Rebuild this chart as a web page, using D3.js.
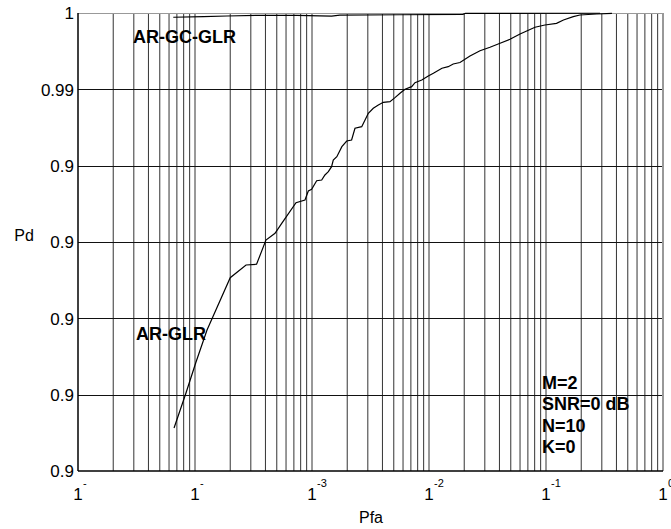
<!DOCTYPE html>
<html>
<head>
<meta charset="utf-8">
<script src="https://cdn.jsdelivr.net/npm/d3@7"></script>
<style>
  body { margin: 0; background: #fff; }
  svg { display: block; font-family: "Liberation Sans", Arial, sans-serif; }
</style>
</head>
<body>
<svg id="chart" width="671" height="529"></svg>
<script>
// y axis is drawn in grid steps (0 = bottom line, 6 = top line), labels as printed
const yTickLabels = ['0.9', '0.9', '0.9', '0.9', '0.9', '0.99', '1'];

// x tick exponents and the (cut off) superscripts that show on the picture
const xTickExps = [-5, -4, -3, -2, -1, 0];
const xTickSup = ['-', '-', '-3', '-2', '-1', '0'];

// AR-GLR curve: Pfa values and Pd in grid steps
const glrPfa = [6.62e-5, 8.32e-5, 1.02e-4, 1.267e-4, 2.0e-4, 2.73e-4, 3.36e-4, 4.04e-4,
  4.83e-4, 5.51e-4, 7.3e-4, 8.71e-4, 9.3e-4, 9.93e-4, 1.096e-3, 1.21e-3, 1.29e-3,
  1.38e-3, 1.47e-3, 1.52e-3, 1.63e-3, 1.8e-3, 1.98e-3, 2.18e-3, 2.33e-3, 2.66e-3,
  2.84e-3, 3.03e-3, 3.34e-3, 3.69e-3, 4.07e-3, 4.64e-3, 5.12e-3, 5.65e-3, 6.24e-3,
  7.11e-3, 7.59e-3, 8.67e-3, 9.86e-3, 1.09e-2, 1.29e-2, 1.46e-2, 1.61e-2, 1.84e-2,
  2.24e-2, 2.73e-2, 3.32e-2, 4.05e-2, 4.92e-2, 6.0e-2, 6.84e-2, 8.05e-2, 9.79e-2,
  0.123, 0.141, 0.171, 0.195, 0.271, 0.366];
const glrPd = [0.563, 1.009, 1.428, 1.847, 2.532, 2.699, 2.708, 3.026,
  3.114, 3.245, 3.515, 3.55, 3.668, 3.69, 3.803, 3.812, 3.878,
  3.921, 3.987, 4.074, 4.118, 4.249, 4.323, 4.336, 4.49, 4.511,
  4.598, 4.686, 4.752, 4.795, 4.83, 4.838, 4.891, 4.948, 5.001,
  5.035, 5.087, 5.122, 5.175, 5.21, 5.276, 5.297, 5.332, 5.352,
  5.437, 5.506, 5.551, 5.603, 5.656, 5.725, 5.764, 5.813, 5.843,
  5.865, 5.909, 5.952, 5.974, 5.987, 5.996];

// AR-GC-GLR curve
const gcPfa = [6.52e-5, 1.18e-4, 1.87e-4, 3.84e-4, 7.4e-4, 1.47e-3, 1.73e-3,
  5.65e-3, 1.95e-2, 2.05e-2, 0.29];
const gcPd = [5.944, 5.952, 5.961, 5.97, 5.97, 5.958, 5.971,
  5.977, 5.983, 5.996, 5.997];

const infoLines = ['M=2', 'SNR=0 dB', 'N=10', 'K=0'];

const svg = d3.select('#chart');
const margin = { top: 13, right: 8, bottom: 58, left: 78 };
const width = 671 - margin.left - margin.right;
const height = 529 - margin.top - margin.bottom;

const x = d3.scaleLog().domain([1e-5, 1]).range([0, width]);
const y = d3.scaleLinear().domain([0, 6]).range([height, 0]);

const g = svg.append('g').attr('transform', `translate(${margin.left},${margin.top})`);

// vertical grid: 2..10 times each decade
const minor = [];
for (let e = -5; e < 0; e++) {
  for (let m = 2; m <= 10; m++) minor.push(m * Math.pow(10, e));
}
g.append('g')
  .selectAll('line')
  .data(minor)
  .join('line')
  .attr('x1', (d) => x(d)).attr('x2', (d) => x(d))
  .attr('y1', 0).attr('y2', height)
  .attr('stroke', '#333')
  .attr('stroke-width', 1);

// horizontal grid
g.append('g')
  .selectAll('line')
  .data(d3.range(1, 6))
  .join('line')
  .attr('x1', 0).attr('x2', width)
  .attr('y1', (d) => Math.round(y(d)) + 0.5).attr('y2', (d) => Math.round(y(d)) + 0.5)
  .attr('stroke', '#111');

// frame: light top/right, dark left/bottom
g.append('line').attr('x1', 0).attr('x2', width).attr('y1', 0.5).attr('y2', 0.5)
  .attr('stroke', '#999');
g.append('line').attr('x1', width - 0.5).attr('x2', width - 0.5).attr('y1', 0).attr('y2', height)
  .attr('stroke', '#999');
g.append('line').attr('x1', 0).attr('x2', width).attr('y1', height).attr('y2', height)
  .attr('stroke', '#000').attr('stroke-width', 1.5);
g.append('line').attr('x1', 0).attr('x2', 0).attr('y1', 0).attr('y2', height)
  .attr('stroke', '#000').attr('stroke-width', 1.5);

// y tick labels
g.append('g')
  .selectAll('text')
  .data(yTickLabels)
  .join('text')
  .attr('x', -4)
  .attr('y', (d, i) => y(i))
  .attr('dy', '0.38em')
  .attr('text-anchor', 'end')
  .attr('font-size', 17)
  .text((d) => d);

// x tick labels: "1" with a superscript (the last one runs off the edge, as printed)
const xt = g.append('g')
  .selectAll('g')
  .data(xTickExps)
  .join('g')
  .attr('transform', (d) => `translate(${x(Math.pow(10, d))},${height + 29})`);
xt.append('text')
  .attr('text-anchor', 'middle')
  .attr('font-size', 17)
  .text('1');
xt.append('text')
  .attr('x', 5)
  .attr('y', -13)
  .attr('font-size', 11)
  .text((d, i) => xTickSup[i]);

// axis titles
svg.append('text')
  .attr('x', 24).attr('y', 241)
  .attr('text-anchor', 'middle')
  .attr('font-size', 16)
  .text('Pd');
svg.append('text')
  .attr('x', 371).attr('y', 523)
  .attr('text-anchor', 'middle')
  .attr('font-size', 16)
  .text('Pfa');

// curves
const line = d3.line()
  .x((d) => x(d[0]))
  .y((d) => y(d[1]));

g.append('path')
  .datum(d3.zip(glrPfa, glrPd))
  .attr('fill', 'none')
  .attr('stroke', '#000')
  .attr('stroke-width', 1.2)
  .attr('d', line);

g.append('path')
  .datum(d3.zip(gcPfa, gcPd))
  .attr('fill', 'none')
  .attr('stroke', '#000')
  .attr('stroke-width', 1.2)
  .attr('d', line);

// curve names
svg.append('text')
  .attr('x', 133).attr('y', 43)
  .attr('font-size', 18).attr('font-weight', 'bold')
  .text('AR-GC-GLR');
svg.append('text')
  .attr('x', 136).attr('y', 340)
  .attr('font-size', 18).attr('font-weight', 'bold')
  .text('AR-GLR');

// parameter block
svg.append('g')
  .selectAll('text')
  .data(infoLines)
  .join('text')
  .attr('x', 542)
  .attr('y', (d, i) => 389 + i * 21.3)
  .attr('font-size', 18).attr('font-weight', 'bold')
  .text((d) => d);
</script>
</body>
</html>
